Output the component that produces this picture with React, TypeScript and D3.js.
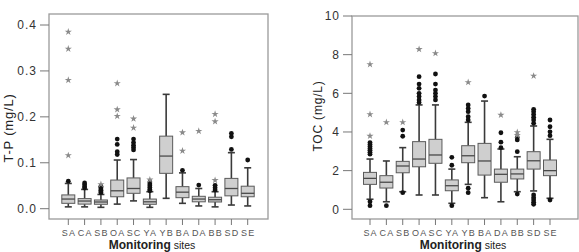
import React from "react";
import * as d3 from "d3";

const sites = ["SA", "CA", "SB", "OA", "SC", "YA", "YB", "BA", "DA", "BB", "SD", "SE"];

// T-P (mg/L) box statistics per site
const tpLow = [0.004, 0.004, 0.003, 0.010, 0.017, 0.003, 0.0226, 0.0117, 0.006, 0.004, 0.008, 0.006];
const tpQ1 = [0.0117, 0.010, 0.0096, 0.026, 0.0335, 0.0096, 0.077, 0.024, 0.015, 0.0146, 0.028, 0.026];
const tpMed = [0.021, 0.0167, 0.0146, 0.039, 0.044, 0.015, 0.1146, 0.036, 0.021, 0.0196, 0.044, 0.0335];
const tpQ3 = [0.030, 0.022, 0.019, 0.0624, 0.067, 0.021, 0.158, 0.048, 0.027, 0.025, 0.066, 0.049];
const tpHigh = [0.055, 0.042, 0.031, 0.106, 0.107, 0.037, 0.249, 0.078, 0.044, 0.037, 0.122, 0.089];
const tpDots = [
  [0.06],
  [0.056, 0.052, 0.048, 0.045],
  [0.049, 0.046, 0.043, 0.040, 0.037, 0.035],
  [0.1515, 0.14, 0.124, 0.118],
  [0.1515, 0.144, 0.138, 0.133, 0.128],
  [0.058, 0.054, 0.050, 0.046, 0.042, 0.039],
  [],
  [0.0835],
  [0.0515],
  [0.051, 0.0457, 0.0407],
  [0.129, 0.1565, 0.164],
  [0.106],
];
const tpStars = [
  [0.116, 0.28, 0.348, 0.385],
  [],
  [0.053],
  [0.2015, 0.216, 0.273],
  [0.176, 0.196],
  [0.063],
  [],
  [0.126, 0.166],
  [0.169],
  [0.062, 0.19, 0.206],
  [],
  [],
];
const tpTicks = [0, 0.1, 0.2, 0.3, 0.4];

// TOC (mg/L) box statistics per site
const tocLow = [0.52, 0.39, 0.91, 0.74, 0.74, 0.31, 1.29, 0.6, 0.39, 0.91, 0.95, 0.57];
const tocQ1 = [1.29, 1.1, 1.89, 2.2, 2.38, 0.96, 2.41, 1.77, 1.4, 1.57, 2.08, 1.74];
const tocMed = [1.6, 1.4, 2.24, 2.6, 2.81, 1.22, 2.77, 2.5, 1.81, 1.83, 2.51, 2.0];
const tocQ3 = [1.91, 1.74, 2.48, 3.5, 3.62, 1.52, 3.29, 3.41, 2.08, 2.08, 2.98, 2.55];
const tocHigh = [2.6, 2.5, 3.19, 5.4, 5.4, 2.08, 4.5, 5.6, 3.12, 2.72, 4.31, 3.62];
const tocDots = [
  [0.39, 0.19, 2.85, 2.95, 3.05, 3.15, 3.25, 3.35, 3.45],
  [0.19],
  [0.86, 3.78, 4.1],
  [5.52, 5.66, 5.83, 6.0, 6.26, 6.48, 6.86],
  [5.66, 5.83, 6.0, 6.17, 6.48, 7.0],
  [0.19, 2.28, 2.69],
  [1.09, 0.86, 4.62, 4.79, 5.05, 5.22, 5.4],
  [5.86],
  [3.19, 3.47, 3.96],
  [0.79, 2.98, 3.59, 3.72],
  [0.74, 0.6, 0.48, 0.36, 0.26, 4.45, 4.62, 4.76, 4.91, 5.05, 5.17],
  [0.48, 3.81, 4.01, 4.27, 4.62],
];
const tocStars = [
  [3.79, 4.91, 7.5],
  [4.5],
  [4.5],
  [8.28],
  [8.07],
  [],
  [6.57],
  [],
  [4.88],
  [3.84, 3.98],
  [6.9],
  [],
];
const tocTicks = [0, 2, 4, 6, 8, 10];

const FONT = "'Liberation Sans', Arial, sans-serif";
const starPath = d3.symbol().type(d3.symbolStar).size(16)() as string;

type PanelProps = {
  frame: { x0: number; x1: number; y0: number; y1: number };
  xRange: [number, number];
  yDomain: [number, number];
  yRange: [number, number];
  ticks: number[];
  tickFmt: (v: number) => string;
  low: number[];
  q1: number[];
  med: number[];
  q3: number[];
  high: number[];
  dots: number[][];
  stars: number[][];
  yLabel: string;
  yLabelX: number;
  yLabelY: number;
  yLabelSize: number;
  xTitleX: number;
};

function Panel(p: PanelProps) {
  const x = d3.scalePoint<string>().domain(sites).range(p.xRange);
  const y = d3.scaleLinear().domain(p.yDomain).range(p.yRange);
  const bw = 13;
  const cap = 7;
  const { x0, x1, y0, y1 } = p.frame;
  return (
    <g>
      {/* frame */}
      <rect x={x0} y={y0} width={x1 - x0} height={y1 - y0} fill="none" stroke="#9a9a9a" strokeWidth={1.3} />
      {/* y axis */}
      {p.ticks.map((t) => (
        <g key={t}>
          <line x1={x0 - 9} x2={x0} y1={y(t)} y2={y(t)} stroke="#777" strokeWidth={1} />
          <text x={x0 - 12} y={y(t)} dy="0.35em" textAnchor="end" fontSize={12} fill="#333" fontFamily={FONT} letterSpacing={1}>
            {p.tickFmt(t)}
          </text>
        </g>
      ))}
      {/* x axis */}
      {sites.map((s) => (
        <g key={s}>
          <line x1={x(s)} x2={x(s)} y1={y1} y2={y1 + 6} stroke="#777" strokeWidth={1} />
          <text x={(x(s) as number) + 0.6} y={y1 + 17} textAnchor="middle" fontSize={9} fill="#555" fontFamily={FONT} letterSpacing={1.2}>
            {s}
          </text>
        </g>
      ))}
      <text x={p.xTitleX} y={y1 + 30} textAnchor="middle" fill="#222" fontFamily={FONT}>
        <tspan fontWeight="bold" fontSize={12}>Monitoring</tspan>
        <tspan fontSize={10.5}> sites</tspan>
      </text>
      <text
        transform={`translate(${p.yLabelX},${p.yLabelY}) rotate(-90)`}
        textAnchor="middle"
        dy="0.35em"
        fontSize={p.yLabelSize}
        fill="#222"
        fontFamily={FONT}
        letterSpacing={0.8}
      >
        {p.yLabel}
      </text>
      {/* boxes */}
      {sites.map((s, i) => {
        const cx = x(s) as number;
        return (
          <g key={s}>
            <line x1={cx} x2={cx} y1={y(p.low[i])} y2={y(p.q1[i])} stroke="#3a3a3a" strokeWidth={1.6} />
            <line x1={cx} x2={cx} y1={y(p.q3[i])} y2={y(p.high[i])} stroke="#3a3a3a" strokeWidth={1.6} />
            <line x1={cx - cap / 2} x2={cx + cap / 2} y1={y(p.low[i])} y2={y(p.low[i])} stroke="#3a3a3a" strokeWidth={1.6} />
            <line x1={cx - cap / 2} x2={cx + cap / 2} y1={y(p.high[i])} y2={y(p.high[i])} stroke="#3a3a3a" strokeWidth={1.6} />
            <rect
              x={cx - bw / 2}
              y={y(p.q3[i])}
              width={bw}
              height={y(p.q1[i]) - y(p.q3[i])}
              fill="#cfcfcf"
              stroke="#5a5a5a"
              strokeWidth={1}
            />
            <line x1={cx - bw / 2} x2={cx + bw / 2} y1={y(p.med[i])} y2={y(p.med[i])} stroke="#4a4a4a" strokeWidth={1.3} />
            {p.dots[i].map((v, j) => (
              <circle key={"d" + j} cx={cx} cy={y(v)} r={2.4} fill="#111" />
            ))}
            {p.stars[i].map((v, j) => (
              <path key={"s" + j} d={starPath} transform={`translate(${cx},${y(v)})`} fill="#8a8a8a" />
            ))}
          </g>
        );
      })}
    </g>
  );
}

export default function App() {
  return (
    <svg width={579} height={252} style={{ position: "absolute", left: 0, top: 0, background: "#fff" }}>
      <Panel
        frame={{ x0: 49, x1: 268, y0: 14, y1: 219 }}
        xRange={[68.3, 247.7]}
        yDomain={[0, 0.4]}
        yRange={[208.7, 25]}
        ticks={tpTicks}
        tickFmt={(v) => v.toFixed(1)}
        low={tpLow}
        q1={tpQ1}
        med={tpMed}
        q3={tpQ3}
        high={tpHigh}
        dots={tpDots}
        stars={tpStars}
        yLabel="T-P (mg/L)"
        yLabelX={8}
        yLabelY={128}
        yLabelSize={13}
        xTitleX={152}
      />
      <Panel
        frame={{ x0: 352, x1: 578, y0: 16, y1: 219 }}
        xRange={[370, 550]}
        yDomain={[0, 10]}
        yRange={[209.3, 16]}
        ticks={tocTicks}
        tickFmt={(v) => String(v)}
        low={tocLow}
        q1={tocQ1}
        med={tocMed}
        q3={tocQ3}
        high={tocHigh}
        dots={tocDots}
        stars={tocStars}
        yLabel="TOC (mg/L)"
        yLabelX={318}
        yLabelY={116}
        yLabelSize={12}
        xTitleX={463}
      />
    </svg>
  );
}
